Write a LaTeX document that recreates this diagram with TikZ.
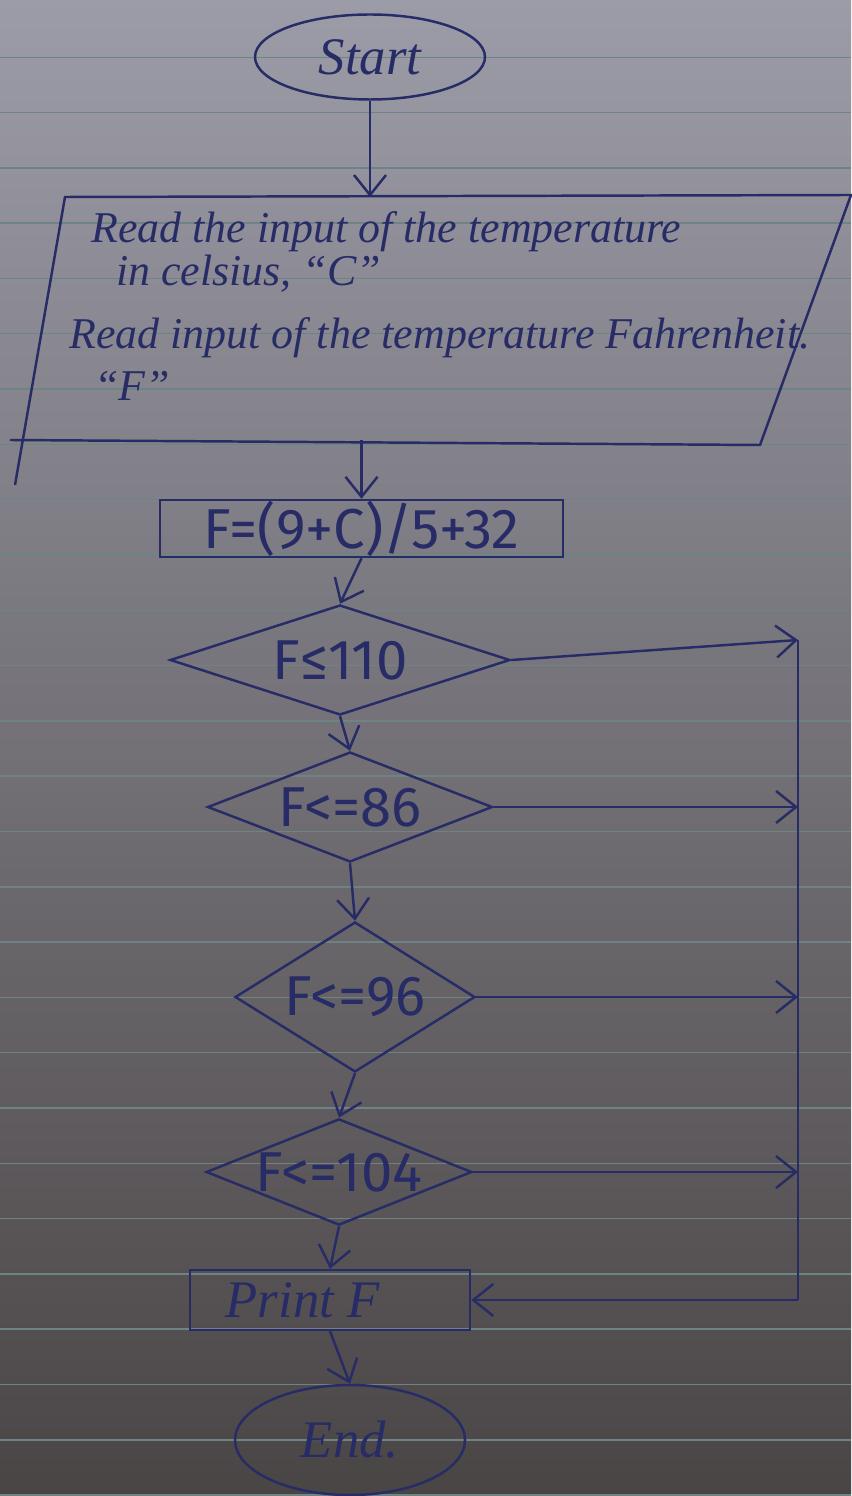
\documentclass[tikz,border=0pt]{standalone}
\usepackage{fontspec}
\setmainfont{Liberation Serif}
\newfontfamily\inkfont{Fira Sans}
\usetikzlibrary{arrows.meta, shapes.geometric, calc}
\definecolor{cink}{HTML}{272B66}
\definecolor{cpaper}{HTML}{9C9CA8}
\definecolor{cpapermid}{HTML}{86868F}
\definecolor{cpaperdark}{HTML}{4A4545}
\definecolor{crule}{HTML}{6E8484}
\tikzset{
  every picture/.style={line width=0.7pt},
  flow/.style={draw=cink, text=cink, inner sep=0pt},
  term/.style={flow, ellipse},
  procbox/.style={flow, rectangle},
  cond/.style={flow, diamond},
  arrow/.style={-{Straight Barb[length=2mm, width=3.2mm]}, draw=cink},
  ruling/.style={draw=crule, line width=0.4pt},
  hand/.style={text=cink, font=\itshape\fontsize{12.5}{11}\selectfont},
  print/.style={font=\inkfont\fontsize{16}{18}\selectfont},
}

\begin{document}
\begin{tikzpicture}
  % paper and its ruling
  \shade[top color=cpaper, middle color=cpapermid, bottom color=cpaperdark] (0,0) rectangle (8.51,-14.96);
  \useasboundingbox (0,0) rectangle (8.51,-14.96);
  \foreach \k in {1,...,27}
    \draw[ruling] (0,{-0.02-0.553*\k}) -- (8.51,{-0.02-0.553*\k});

  \node[term, hand, font=\itshape\fontsize{15}{18}\selectfont, minimum width=2.3cm, minimum height=0.85cm] (start) at (3.70,-0.57) {Start};

  % input box, drawn by hand as a slanted box
  \coordinate (intl) at (0.65,-1.97);
  \coordinate (intr) at (8.51,-1.95);
  \coordinate (inbr) at (7.60,-4.45);
  \coordinate (inbl) at (0.10,-4.40);
  \draw[cink] (inbl) -- (inbr) -- (intr) -- (intl) -- (0.15,-4.85);
  \node[hand, align=left, anchor=north west, inner sep=0pt] (read) at (0.68,-2.10)
    {\hspace*{0.22cm}Read the input of the temperature\\
     \hspace*{0.47cm}in celsius, “C”\\[0.24cm]
     Read input of the temperature Fahrenheit.\\[0.14cm]
     \hspace*{0.25cm}“F”};

  \node[procbox, print, minimum width=4.03cm, minimum height=0.57cm] (calc) at (3.615,-5.285) {F=(9+C)/5+32};

  % the four tests
  \node[cond, print, aspect=3.0, minimum width=3.40cm, minimum height=1.10cm] (d1) at (3.40,-6.60) {F≤110};
  \node[cond, print, aspect=2.6, minimum width=2.85cm, minimum height=1.10cm] (d2) at (3.50,-8.07) {F<=86};
  \node[cond, print, aspect=1.6, minimum width=2.40cm, minimum height=1.50cm] (d3) at (3.55,-9.97) {F<=96};
  \node[cond, print, aspect=2.5, minimum width=2.52cm, minimum height=1.00cm] (d4) at (3.39,-11.72) {F<=104};

  \node[procbox, hand, font=\itshape\fontsize{15}{18}\selectfont, minimum width=2.80cm, minimum height=0.60cm] (out) at (3.30,-13.00) {Print F\hspace*{0.55cm}};
  \node[term, hand, font=\itshape\fontsize{15}{18}\selectfont, minimum width=2.30cm, minimum height=1.10cm] (stop) at (3.50,-14.40) {End.};

  % main line
  \draw[arrow] (start.south) -- (start.south |- intl);
  \draw[arrow] (calc.north |- inbl) -- (calc.north);
  \draw[arrow] (calc.south) -- (d1.north);
  \draw[arrow] (d1.south) -- (d2.north);
  \draw[arrow] (d2.south) -- (d3.north);
  \draw[arrow] (d3.south) -- (d4.north);
  \draw[arrow] (d4.south) -- (out.north);
  \draw[arrow] (out.south) -- (stop.north);

  % side line back to the print box
  \coordinate (rtop) at (7.98,-6.40);
  \coordinate (rbot) at (7.98,-13.00);
  \draw[arrow] (d1.east) -- (rtop);
  \draw[arrow] (d2.east) -- (d2.east -| rtop);
  \draw[arrow] (d3.east) -- (d3.east -| rtop);
  \draw[arrow] (d4.east) -- (d4.east -| rtop);
  \draw[cink] (rtop) -- (rbot);
  \draw[arrow] (rbot) -- (out.east);
\end{tikzpicture}
\end{document}
